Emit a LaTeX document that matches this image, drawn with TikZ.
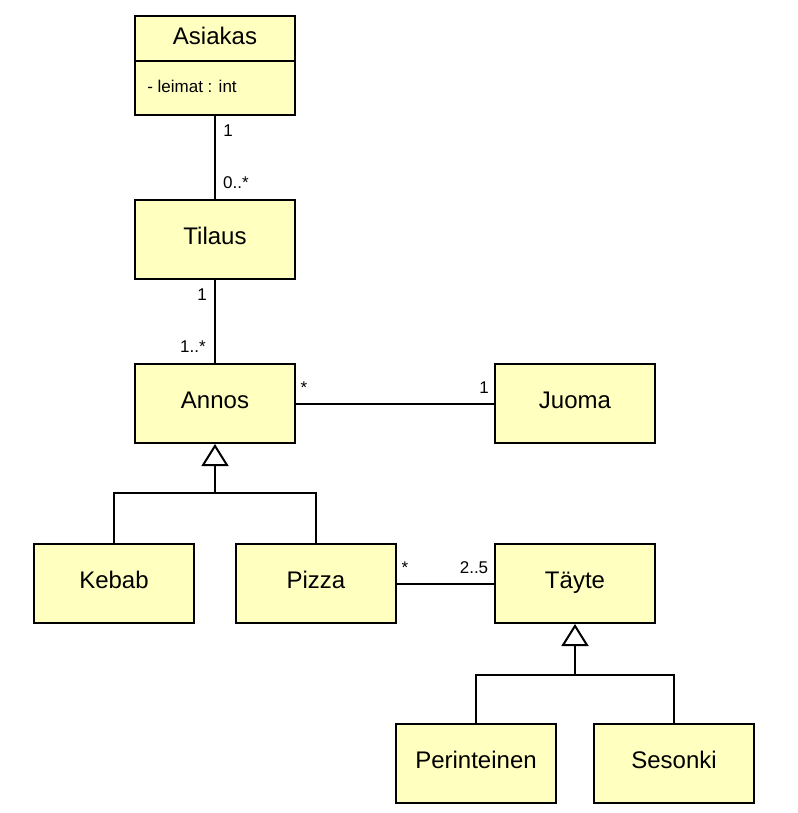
\documentclass[tikz,border=0pt]{standalone}
\usepackage{fontspec}
\setmainfont{Liberation Sans}
\usetikzlibrary{arrows.meta}
\definecolor{classfill}{HTML}{FFFFC0}

\begin{document}
\begin{tikzpicture}[x=0.75pt,y=-0.75pt,
  cls/.style={draw, line width=1.5pt, fill=classfill, minimum width=120pt,
    minimum height=59.25pt, inner sep=0pt, text height=12pt, text depth=4.8pt,
    font=\fontsize{18}{20}\selectfont},
  mult/.style={anchor=base, inner sep=0pt, font=\fontsize{12.75}{14}\selectfont},
  assoc/.style={line width=1.5pt},
  gen/.style={line width=1.5pt, -{Triangle[open, length=16.5pt, width=20.25pt]}}]
  \useasboundingbox (0,0) rectangle (798,813);
  % Asiakas with one attribute
  \node[cls, minimum height=74.25pt] (asiakas) at (215,65.5) {};
  \coordinate (divider) at (215,61);
  \draw[line width=1.5pt] (asiakas.west |- divider) -- (asiakas.east |- divider);
  \node[anchor=base, inner sep=0pt, font=\fontsize{18}{20}\selectfont] (asiakasname) at (215,45) {Asiakas};
  \node[mult, anchor=base west] (leimat) at (147,93) {- leimat : int};
  % classes
  \node[cls] (tilaus) at (215,239.5) {Tilaus};
  \node[cls] (annos) at (215,403.5) {Annos};
  \node[cls] (juoma) at (575,403.5) {Juoma};
  \node[cls] (kebab) at (114,583.5) {Kebab};
  \node[cls] (pizza) at (316,583.5) {Pizza};
  \node[cls] (tayte) at (575,583.5) {Täyte};
  \node[cls] (perinteinen) at (476,763.5) {Perinteinen};
  \node[cls] (sesonki) at (674,763.5) {Sesonki};
  % associations
  \draw[assoc] (asiakas) -- (tilaus);
  \draw[assoc] (tilaus) -- (annos);
  \draw[assoc] (annos) -- (juoma);
  \draw[assoc] (pizza) -- (tayte);
  % multiplicities
  \node[mult] (m1) at (228,137) {1};
  \node[mult] (m2) at (236,188) {0..*};
  \node[mult] (m3) at (202,300) {1};
  \node[mult] (m4) at (193,352) {1..*};
  \node[mult] (m5) at (304,393) {*};
  \node[mult] (m6) at (484,393) {1};
  \node[mult] (m7) at (405,573) {*};
  \node[mult] (m8) at (474,573) {2..5};
  % generalisations
  \coordinate (annosjoin) at (215,493);
  \draw[assoc] (kebab.north) |- (annosjoin) -| (pizza.north);
  \draw[gen] (annosjoin) -- (annos.south);
  \coordinate (taytejoin) at (575,675);
  \draw[assoc] (perinteinen.north) |- (taytejoin) -| (sesonki.north);
  \draw[gen] (taytejoin) -- (tayte.south);
\end{tikzpicture}
\end{document}
